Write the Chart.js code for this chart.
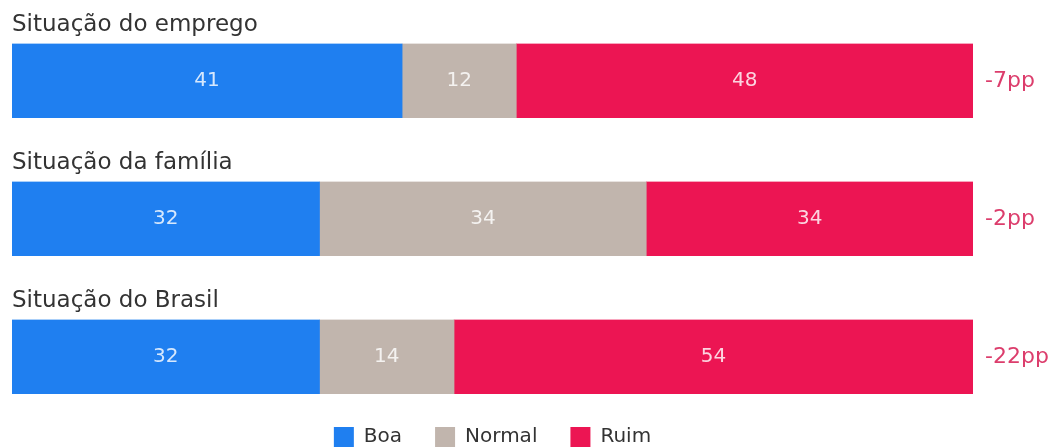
<!DOCTYPE html>
<html>
<head>
<meta charset="utf-8">
<title>Situação</title>
<script src="https://cdn.jsdelivr.net/npm/chart.js@4.4.1/dist/chart.umd.min.js"></script>
<style>
  body { margin: 0; background: #fff; overflow: hidden; }
  #wrap { position: relative; width: 1054px; height: 447px; overflow: hidden; }
  .row { position: absolute; left: 0; width: 1054px; }
</style>
</head>
<body>
<div id="wrap">
  <div class="row" style="top:0px;height:118px"><canvas id="row0"></canvas></div>
  <div class="row" style="top:138px;height:118px"><canvas id="row1"></canvas></div>
  <div class="row" style="top:276px;height:181px"><canvas id="row2"></canvas></div>
</div>
<script>
const questions = ['Situação do emprego', 'Situação da família', 'Situação do Brasil'];
const seriesNames = ['Boa', 'Normal', 'Ruim'];
const boa = [41, 32, 32];
const normal = [12, 34, 14];
const ruim = [48, 34, 54];
const diffs = ['-7pp', '-2pp', '-22pp'];

const colors = ['#1f7ff0', '#c1b5ad', '#ec1553'];
const FONT = '"DejaVu Sans", sans-serif';

// numbers inside each segment
const valueLabels = {
    id: 'valueLabels',
    afterDatasetsDraw(chart) {
        const ctx = chart.ctx;
        ctx.save();
        ctx.font = '20px ' + FONT;
        ctx.fillStyle = 'rgba(255,255,255,0.82)';
        ctx.textAlign = 'center';
        ctx.textBaseline = 'middle';
        chart.data.datasets.forEach((ds, i) => {
            chart.getDatasetMeta(i).data.forEach((bar, j) => {
                ctx.fillText(ds.data[j], (bar.x + bar.base) / 2, bar.y);
            });
        });
        ctx.restore();
    }
};

// difference text to the right of the bar
const diffLabel = {
    id: 'diffLabel',
    afterDraw(chart, args, opts) {
        const ctx = chart.ctx;
        const area = chart.chartArea;
        ctx.save();
        ctx.font = '22px ' + FONT;
        ctx.fillStyle = '#dc3d6c';
        ctx.textAlign = 'left';
        ctx.textBaseline = 'middle';
        ctx.fillText(opts.text, area.right + 12, (area.top + area.bottom) / 2);
        ctx.restore();
    }
};

questions.forEach((q, i) => {
    const vals = [boa[i], normal[i], ruim[i]];
    const total = vals.reduce((a, b) => a + b, 0);
    const last = i === questions.length - 1;

    new Chart(document.getElementById('row' + i), {
        type: 'bar',
        data: {
            labels: [q],
            datasets: seriesNames.map((name, k) => ({
                label: name,
                data: [vals[k]],
                backgroundColor: colors[k],
                borderWidth: 0,
                categoryPercentage: 1,
                barPercentage: 1
            }))
        },
        options: {
            indexAxis: 'y',
            responsive: true,
            maintainAspectRatio: false,
            animation: false,
            layout: { padding: { left: 12, right: 81, bottom: 0 } },
            scales: {
                x: { stacked: true, display: false, min: 0, max: total },
                y: { stacked: true, display: false }
            },
            plugins: {
                title: {
                    display: true,
                    text: q,
                    align: 'start',
                    color: '#333',
                    font: { family: FONT, size: 23, weight: 'normal' },
                    padding: { top: 11, bottom: 5 }
                },
                legend: {
                    display: last,
                    position: 'bottom',
                    labels: {
                        color: '#333',
                        boxWidth: 20,
                        boxHeight: 20,
                        padding: 33,
                        font: { family: FONT, size: 20 }
                    }
                },
                tooltip: { enabled: false },
                diffLabel: { text: diffs[i] }
            }
        },
        plugins: [valueLabels, diffLabel]
    });
});
</script>
</body>
</html>
